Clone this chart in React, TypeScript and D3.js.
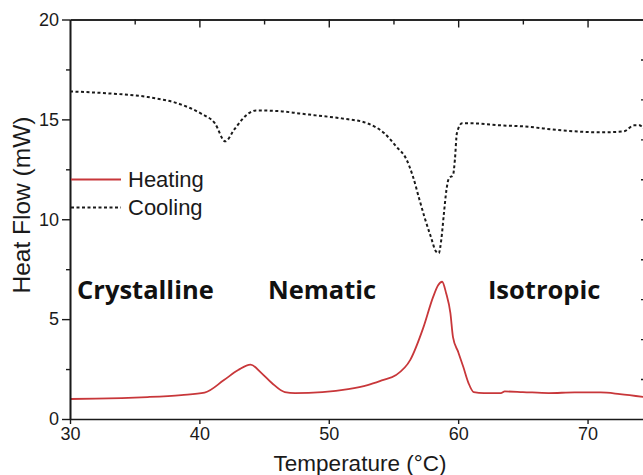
import React, { useEffect, useRef } from 'react';
import * as d3 from 'd3';

// heating trace (temperature °C, heat flow mW)
const heatT = [30, 32, 34, 36, 38.6, 40.4, 41.9, 43.0, 43.95, 44.8, 45.6, 46.6, 47.4, 49.5, 51.5, 53.0, 54.16, 55.2, 56.3, 57.3, 58.06, 58.45, 58.76, 59.07, 59.4, 59.6, 60.0, 60.4, 60.8, 61.2, 62, 63.3, 63.6, 65, 67, 69, 71, 72.5, 74.4];
const heatV = [1.0, 1.02, 1.05, 1.1, 1.2, 1.32, 1.95, 2.45, 2.72, 2.3, 1.8, 1.35, 1.3, 1.35, 1.5, 1.7, 1.95, 2.2, 2.96, 4.56, 6.1, 6.7, 6.87, 6.3, 5.3, 4.1, 3.36, 2.6, 1.8, 1.35, 1.3, 1.3, 1.38, 1.35, 1.3, 1.33, 1.33, 1.25, 1.1];

// cooling trace
const coolT = [30, 33, 36, 38.6, 40.1, 41.2, 42.0, 42.7, 43.8, 44.4, 46.4, 47.7, 49, 51, 53, 54.3, 55.2, 56.0, 56.5, 57.0, 57.4, 57.9, 58.27, 58.5, 58.7, 58.9, 59.1, 59.3, 59.6, 59.75, 59.9, 60.3, 61.2, 63.3, 65, 68, 71, 72.8, 73.6, 74.0, 74.4];
const coolV = [16.4, 16.3, 16.12, 15.74, 15.3, 14.8, 13.9, 14.5, 15.3, 15.45, 15.4, 15.3, 15.2, 15.05, 14.8, 14.3, 13.65, 13.0, 12.15, 11.0, 10.1, 9.1, 8.4, 8.3, 9.0, 10.3, 11.5, 12.07, 12.2, 13.0, 14.3, 14.8, 14.8, 14.7, 14.65, 14.45, 14.35, 14.4, 14.7, 14.7, 14.5];

const xTicks = [30, 40, 50, 60, 70];
const xMinor = [35, 45, 55, 65];
const yTicks = [0, 5, 10, 15, 20];
const yMinor = [2.5, 7.5, 12.5, 17.5];
const rightTicks = [2, 4, 6, 8, 10, 12, 14, 16, 18];

const seriesNames = ['Heating', 'Cooling'];
const phases = [
  { label: 'Crystalline', t: 30.55 },
  { label: 'Nematic', t: 45.3 },
  { label: 'Isotropic', t: 62.3 },
];

const RED = '#c8373a';
const INK = '#1a1a1a';
const SANS = '"Liberation Sans", Arial, sans-serif';

const App = () => {
  const ref = useRef<SVGSVGElement>(null);

  useEffect(() => {
    const svg = d3.select(ref.current);
    svg.selectAll('*').remove();

    const x = d3.scaleLinear([30, 74.44], [70, 645]);
    const y = d3.scaleLinear([0, 20], [419, 19.5]);

    const line = d3.line<[number, number]>()
      .x(d => x(d[0]))
      .y(d => y(d[1]))
      .curve(d3.curveMonotoneX);

    const heat = heatT.map((t, i) => [t, heatV[i]] as [number, number]);
    const cool = coolT.map((t, i) => [t, coolV[i]] as [number, number]);

    // phase labels
    svg.append('g')
      .selectAll('text')
      .data(phases).enter()
      .append('text')
      .attr('x', d => x(d.t))
      .attr('y', 299)
      .attr('font-family', '"Open Sans", sans-serif')
      .attr('font-weight', 700)
      .attr('font-size', 25.5)
      .attr('fill', '#111')
      .text(d => d.label);

    // curves
    svg.append('path')
      .datum(cool)
      .attr('fill', 'none')
      .attr('stroke', INK)
      .attr('stroke-width', 2)
      .attr('stroke-dasharray', '3,2.5')
      .attr('d', line);

    svg.append('path')
      .datum(heat)
      .attr('fill', 'none')
      .attr('stroke', RED)
      .attr('stroke-width', 1.8)
      .attr('d', line);

    // axes
    const axisStyle = (g: any) => {
      g.select('.domain').attr('stroke', INK).attr('stroke-width', 1.6);
      g.selectAll('.tick line').attr('stroke', INK).attr('stroke-width', 1.4);
      g.selectAll('text').attr('font-family', SANS).attr('font-size', 18).attr('fill', INK);
    };

    svg.append('g')
      .attr('transform', `translate(70,0)`)
      .call(d3.axisLeft(y).tickValues(yTicks).tickSize(8).tickSizeOuter(0).tickPadding(3).tickFormat(d3.format('d')))
      .call(axisStyle);
    svg.append('g')
      .attr('transform', `translate(70,0)`)
      .call(d3.axisLeft(y).tickValues(yMinor).tickSize(4).tickSizeOuter(0).tickFormat(() => ''))
      .call(axisStyle);

    svg.append('g')
      .attr('transform', `translate(0,419)`)
      .call(d3.axisBottom(x).tickValues(xTicks).tickSize(5).tickSizeOuter(0).tickPadding(3).tickFormat(d3.format('d')))
      .call(axisStyle);

    svg.append('g')
      .attr('transform', `translate(0,19.5)`)
      .call(d3.axisBottom(x).tickValues(xTicks.slice(1)).tickSize(8).tickSizeOuter(0).tickFormat(() => ''))
      .call(axisStyle);
    svg.append('g')
      .attr('transform', `translate(0,19.5)`)
      .call(d3.axisBottom(x).tickValues(xMinor).tickSize(5).tickSizeOuter(0).tickFormat(() => ''))
      .call(axisStyle);

    svg.append('g')
      .attr('transform', `translate(645,0)`)
      .call(d3.axisLeft(y).tickValues(rightTicks).tickSize(4).tickSizeOuter(0).tickFormat(() => ''))
      .call(axisStyle);

    // axis titles
    svg.append('text')
      .attr('transform', `translate(30,205) rotate(-90)`)
      .attr('text-anchor', 'middle')
      .attr('font-family', SANS)
      .attr('font-size', 24.5)
      .attr('fill', INK)
      .text('Heat Flow (mW)');

    svg.append('text')
      .attr('x', 360)
      .attr('y', 471)
      .attr('text-anchor', 'middle')
      .attr('font-family', SANS)
      .attr('font-size', 22.5)
      .attr('fill', INK)
      .text('Temperature (°C)');

    // legend
    const legend = svg.append('g');
    seriesNames.forEach((name, i) => {
      const ly = 179.5 + i * 28;
      legend.append('line')
        .attr('x1', 71).attr('x2', 121)
        .attr('y1', ly).attr('y2', ly)
        .attr('stroke', i === 0 ? RED : INK)
        .attr('stroke-width', i === 0 ? 1.8 : 2)
        .attr('stroke-dasharray', i === 0 ? null : '3,2.5');
      legend.append('text')
        .attr('x', 128)
        .attr('y', ly + 7.5)
        .attr('font-family', SANS)
        .attr('font-size', 22)
        .attr('fill', INK)
        .text(name);
    });
  }, []);

  return (
    <svg
      ref={ref}
      width={643}
      height={475}
      style={{ position: 'absolute', left: 0, top: 0, background: '#fff' }}
    />
  );
};

export default App;
